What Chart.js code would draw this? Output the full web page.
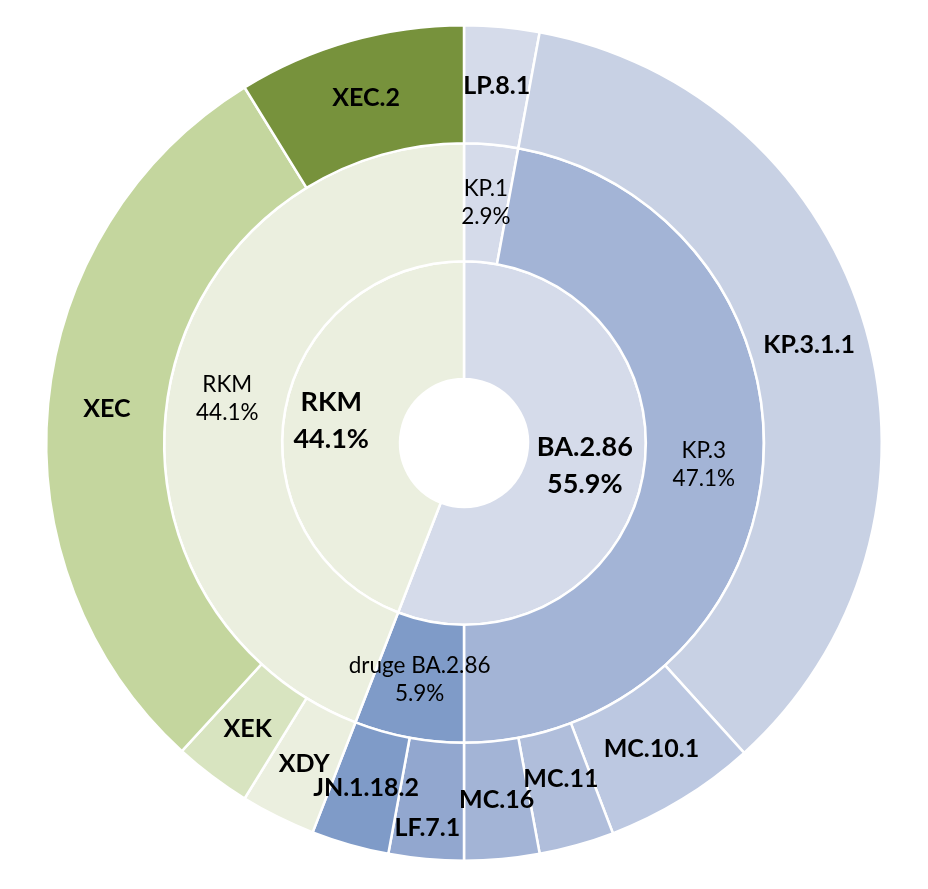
<!DOCTYPE html>
<html>
<head>
<meta charset="utf-8">
<script src="https://cdn.jsdelivr.net/npm/chart.js@4.4.1/dist/chart.umd.min.js"></script>
<style>
  body { margin: 0; background: #ffffff; }
  canvas { display: block; }
</style>
</head>
<body>
<canvas id="myChart" width="928" height="889"></canvas>
<script>
// DATA (shares in %)
const innerLabels = ["BA.2.86", "RKM"];
const innerValues = [55.9, 44.1];

const middleLabels = ["KP.1", "KP.3", "druge BA.2.86", "RKM"];
const middleValues = [2.9, 47.1, 5.9, 44.1];

const outerLabels = ["LP.8.1", "KP.3.1.1", "MC.10.1", "MC.11", "MC.16", "LF.7.1", "JN.1.18.2", "XDY", "XEK", "XEC", "XEC.2"];
const outerValues = [2.9, 35.4, 5.9, 2.9, 2.9, 2.9, 3.0, 2.9, 3.0, 29.4, 8.8];

// COLOURS
const innerColors = ["#D5DBEA", "#EBEFDF"];
const middleColors = ["#D5DBEA", "#A3B4D6", "#7F9BC8", "#EBEFDF"];
const outerColors = ["#D5DBEA", "#C8D1E4", "#BCC8E1", "#B0BEDB", "#A3B4D6", "#92A7CF", "#7F9BC8", "#EBEFDF", "#D8E4C0", "#C4D69E", "#77923C"];

// small nudges so the narrow outer labels don't collide
const labelNudge = { "MC.11": [0, -10], "LF.7.1": [-4, 28], "RKM0": [-12, 0] };

// label style per ring: dataset 0 = outer, 1 = middle, 2 = inner
const ringText = [
  { font: "bold 25px Lato", lineHeight: 28, showPct: false },
  { font: "22.5px Lato", lineHeight: 28, showPct: true },
  { font: "bold 27px Lato", lineHeight: 37, showPct: true },
];

const sliceLabels = {
  id: "sliceLabels",
  afterDatasetsDraw(chart) {
    const ctx = chart.ctx;
    ctx.save();
    ctx.fillStyle = "#000000";
    ctx.textAlign = "center";
    ctx.textBaseline = "middle";
    chart.data.datasets.forEach((ds, i) => {
      const meta = chart.getDatasetMeta(i);
      const style = ringText[i];
      ctx.font = style.font;
      meta.data.forEach((arc, j) => {
        const name = ds.labels[j];
        const pos = arc.getCenterPoint();
        let key = name;
        if (i === 2 && name === "RKM") key = "RKM0";
        const nudge = labelNudge[key] || [0, 0];
        const lines = style.showPct ? [name, ds.data[j].toFixed(1) + "%"] : [name];
        const top = pos.y + nudge[1] - ((lines.length - 1) * style.lineHeight) / 2;
        lines.forEach((line, k) => {
          ctx.fillText(line, pos.x + nudge[0], top + k * style.lineHeight);
        });
      });
    });
    ctx.restore();
  },
};

const ctx = document.getElementById("myChart");
const myChart = new Chart(ctx, {
  type: "doughnut",
  data: {
    datasets: [
      { labels: outerLabels, data: outerValues, backgroundColor: outerColors },
      { labels: middleLabels, data: middleValues, backgroundColor: middleColors },
      { labels: innerLabels, data: innerValues, backgroundColor: innerColors },
    ],
  },
  options: {
    responsive: false,
    animation: false,
    devicePixelRatio: 1,
    cutout: "15.3%",
    layout: { padding: { top: 24, bottom: 27, left: 0, right: 0 } },
    elements: { arc: { borderColor: "#ffffff", borderWidth: 2.5 } },
    plugins: {
      legend: { display: false },
      tooltip: { enabled: false },
    },
  },
  plugins: [sliceLabels],
});
</script>
</body>
</html>
